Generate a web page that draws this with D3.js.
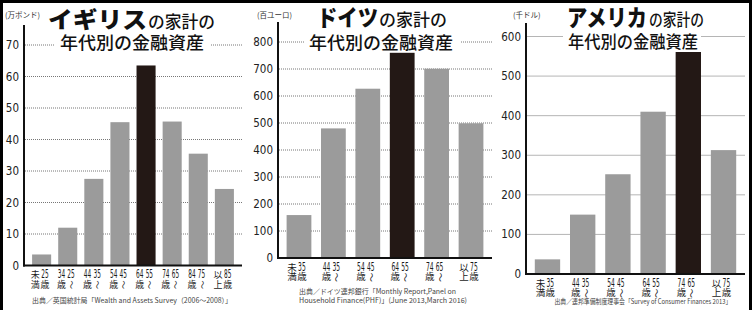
<!DOCTYPE html>
<html>
<head>
<meta charset="utf-8">
<script src="https://cdn.jsdelivr.net/npm/d3@7"></script>
<style>
  body { margin: 0; background: #000; }
  svg { display: block; }
</style>
</head>
<body>
<svg id="chart" width="752" height="310"></svg>
<script>
// data
const ukAges = ["25歳未満", "25～34歳", "35～44歳", "45～54歳", "55～64歳", "65～74歳", "75～84歳", "85歳以上"];
const ukValues = [3.5, 12, 27.5, 45.5, 63.5, 45.7, 35.5, 24.3];
const ukTicks = [0, 10, 20, 30, 40, 50, 60, 70];

const deAges = ["35歳未満", "35～44歳", "45～54歳", "55～64歳", "65～74歳", "75歳以上"];
const deValues = [159, 480, 627, 760, 701, 499];
const deTicks = [0, 100, 200, 300, 400, 500, 600, 700, 800];

const usAges = ["35歳未満", "35～44歳", "45～54歳", "55～64歳", "65～74歳", "75歳以上"];
const usValues = [37, 150, 252, 410, 564, 313];
const usTicks = [0, 100, 200, 300, 400, 500, 600];

const countries = ["イギリス", "ドイツ", "アメリカ"];
const units = ["(万ポンド)", "(百ユーロ)", "(千ドル)"];
const sources = [
  ["出典／英国統計局「Wealth and Assets Survey（2006～2008）」"],
  ["出典／ドイツ連邦銀行「Monthly Report,Panel on", "Household Finance(PHF)」(June 2013,March 2016)"],
  ["出典／連邦準備制度理事会「Survey of Consumer Finances 2013」"]
];
const peakIndex = [4, 3, 4];

const gray = "#9b9b9b";
const dark = "#231815";
const jp = "'Noto Sans CJK JP', 'Noto Sans', sans-serif";
const narrow = "'Liberation Sans Narrow', 'DejaVu Sans Condensed', sans-serif";

// layout of each panel (pixels)
const panels = [
  {ages: ukAges, values: ukValues, ticks: ukTicks, axisX: 24, right: 242, zeroY: 265.5, topY: 45, axisTop: 25,
   pi: 0.27, po: 0.31, unitX: 5, grid: "dot", lab: {k: 9, n: 11.5, nw: 7.4, off: 4.8, shift: -1.5},
   title: {nx: 48, nw: 99, ny: 28, sx: 148, sw: 67, l2x: 60, l2w: 144, l2y: 49, bx: 55, bw: 155},
   src: {x: 132, y: [303], w: [200]}},
  {ages: deAges, values: deValues, ticks: deTicks, axisX: 278, right: 492, zeroY: 258, topY: 42, axisTop: 22,
   pi: 0.28, po: 0.25, unitX: 257, grid: "dot", lab: {k: 9.5, n: 12, nw: 7.6, off: 4.9, shift: -2},
   title: {nx: 317, nw: 61, ny: 26, sx: 379, sw: 68, l2x: 309, l2w: 144, l2y: 49, bx: 305, bw: 156},
   src: {x: 299, y: [294, 303], w: [157, 168], anchor: "start"}},
  {ages: usAges, values: usValues, ticks: usTicks, axisX: 526, right: 745, zeroY: 274, topY: 36.5, axisTop: 23,
   pi: 0.28, po: 0.25, unitX: 513, grid: "solid", lab: {k: 9.5, n: 12, nw: 7.6, off: 4.9, shift: -2},
   title: {nx: 567, nw: 80, ny: 26, sx: 649, sw: 55, l2x: 568, l2w: 130, l2y: 48, bx: 563, bw: 138},
   src: {x: 643, y: [303.5], w: [177]}}
];

// split an age label into two vertical columns [left, right]
function columns(label) {
  let m;
  if ((m = label.match(/^(\d+)歳未満$/))) return [["未", "満"], [m[1], "歳"]];
  if ((m = label.match(/^(\d+)～(\d+)歳$/))) return [[m[2], "歳"], [m[1], "～"]];
  if ((m = label.match(/^(\d+)歳以上$/))) return [["以", "上"], [m[1], "歳"]];
  return [[label, ""], ["", ""]];
}

const svg = d3.select("#chart");
svg.append("rect").attr("width", 752).attr("height", 310).attr("fill", "#000");
svg.append("rect").attr("x", 3).attr("y", 3).attr("width", 746).attr("height", 307).attr("fill", "#fff");

panels.forEach((p, i) => {
  const g = svg.append("g");
  const last = p.ticks[p.ticks.length - 1];

  const y = d3.scaleLinear().domain([0, last]).range([p.zeroY, p.topY]);
  const x = d3.scaleBand().domain(p.ages).range([p.axisX, p.right])
    .paddingInner(p.pi).paddingOuter(p.po);

  // grid lines
  g.append("g")
    .selectAll("line")
    .data(p.ticks.filter((t) => t > 0))
    .join("line")
    .attr("x1", p.axisX + 1)
    .attr("x2", p.right)
    .attr("y1", (d) => y(d))
    .attr("y2", (d) => y(d))
    .attr("stroke", p.grid === "dot" ? "#777" : "#b5b5b5")
    .attr("stroke-width", 1)
    .attr("stroke-dasharray", p.grid === "dot" ? "1,1" : null);

  // y tick labels
  g.append("g")
    .selectAll("text")
    .data(p.ticks)
    .join("text")
    .attr("x", p.axisX - 5)
    .attr("y", (d) => y(d) + 4)
    .attr("text-anchor", "end")
    .attr("font-family", narrow)
    .attr("font-size", 11.5)
    .attr("fill", "#222")
    .text((d) => d);

  // bars
  g.append("g")
    .selectAll("rect")
    .data(p.values)
    .join("rect")
    .attr("x", (d, j) => x(p.ages[j]))
    .attr("width", x.bandwidth())
    .attr("y", (d) => y(d))
    .attr("height", (d) => y(0) - y(d))
    .attr("fill", (d, j) => (j === peakIndex[i] ? dark : gray));

  // axes
  g.append("line")
    .attr("x1", p.axisX).attr("x2", p.axisX)
    .attr("y1", p.axisTop).attr("y2", p.zeroY + 1)
    .attr("stroke", "#111").attr("stroke-width", 2);
  g.append("line")
    .attr("x1", p.axisX - 1).attr("x2", p.right)
    .attr("y1", p.zeroY).attr("y2", p.zeroY)
    .attr("stroke", "#111").attr("stroke-width", 2);

  // x labels (vertical two-column style)
  const lab = g.append("g");
  const L = p.lab;
  p.ages.forEach((a) => {
    const cx = x(a) + x.bandwidth() / 2 + L.shift;
    const cols = columns(a);
    cols.forEach((col, c) => {
      const colX = cx + (c === 0 ? -L.off : L.off);
      col.forEach((ch, r) => {
        const ty = p.zeroY + 12.5 + r * 9.8;
        const isNum = /^\d+$/.test(ch);
        const t = lab.append("text")
          .attr("x", colX)
          .attr("y", ty)
          .attr("text-anchor", "middle")
          .attr("font-family", isNum ? narrow : jp)
          .attr("font-weight", 400)
          .attr("font-size", isNum ? L.n : L.k)
          .attr("fill", "#1a1a1a")
          .text(ch);
        if (isNum) t.attr("textLength", L.nw).attr("lengthAdjust", "spacingAndGlyphs");
        if (ch === "～") t.attr("transform", `rotate(90,${colX},${ty - 3})`);
      });
    });
  });

  // unit
  g.append("text")
    .attr("x", p.unitX)
    .attr("y", 18)
    .attr("font-family", jp)
    .attr("font-size", 7.5)
    .attr("fill", "#333")
    .text(units[i]);

  // title
  const t = p.title;
  g.append("rect")
    .attr("x", t.bx).attr("y", 30).attr("width", t.bw).attr("height", 22)
    .attr("fill", "#fff");
  g.append("text")
    .attr("x", t.nx).attr("y", t.ny)
    .attr("font-family", jp).attr("font-weight", 900).attr("font-size", 23)
    .attr("textLength", t.nw).attr("lengthAdjust", "spacingAndGlyphs")
    .attr("fill", "#111")
    .text(countries[i]);
  g.append("text")
    .attr("x", t.sx).attr("y", t.ny)
    .attr("font-family", jp).attr("font-weight", 500).attr("font-size", 16.5)
    .attr("textLength", t.sw).attr("lengthAdjust", "spacingAndGlyphs")
    .attr("fill", "#111")
    .text("の家計の");
  g.append("text")
    .attr("x", t.l2x).attr("y", t.l2y)
    .attr("font-family", jp).attr("font-weight", 500).attr("font-size", 17.5)
    .attr("textLength", t.l2w).attr("lengthAdjust", "spacingAndGlyphs")
    .attr("fill", "#111")
    .text("年代別の金融資産");

  // source
  sources[i].forEach((s, k) => {
    g.append("text")
      .attr("x", p.src.x)
      .attr("y", p.src.y[k])
      .attr("text-anchor", p.src.anchor || "middle")
      .attr("font-family", jp)
      .attr("font-size", 7)
      .attr("textLength", p.src.w[k])
      .attr("lengthAdjust", "spacingAndGlyphs")
      .attr("fill", "#444")
      .text(s);
  });
});
</script>
</body>
</html>
